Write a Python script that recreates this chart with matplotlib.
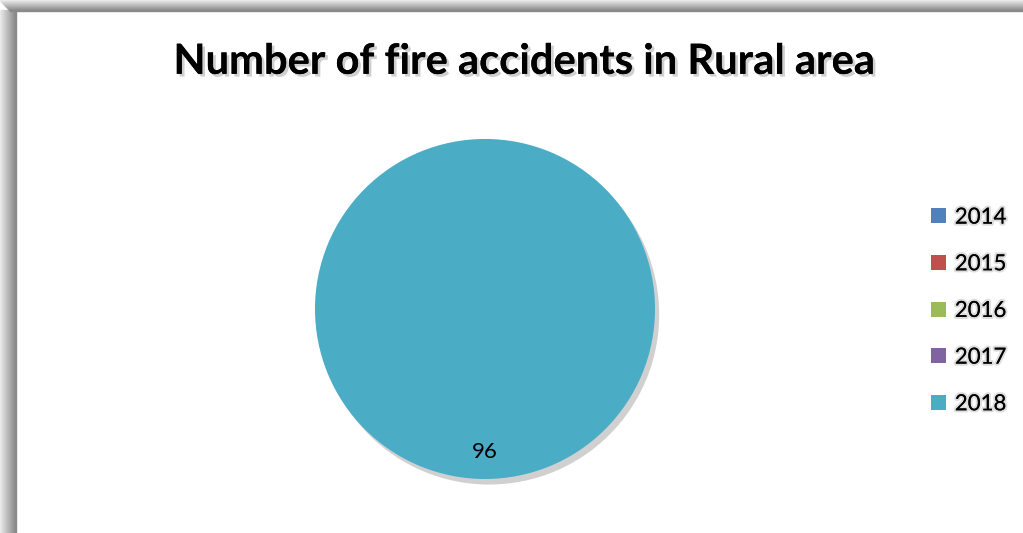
from matplotlib import pyplot as plt
from matplotlib import patheffects as pe
from matplotlib.patches import Rectangle

years = ["2014", "2015", "2016", "2017", "2018"]
accidents = [0, 0, 0, 0, 96]
colors = ["#4F81BD", "#C0504D", "#9BBB59", "#8064A2", "#4BACC6"]

plt.rcParams["font.family"] = ["Lato", "DejaVu Sans"]

fig = plt.figure(figsize=(10.23, 5.33), dpi=100, facecolor="white")

# gray frame shadow at the left and top edges
W, H = 1023, 533
for i in range(16):
    g = 0.92 - 0.38 * i / 15
    fig.patches.append(Rectangle((i / W, 0), 1 / W, 1 - 10 / H, transform=fig.transFigure,
                                 color=(g, g, g), zorder=0))
for j in range(11):
    g = 0.92 - 0.38 * j / 10
    fig.patches.append(Rectangle((j / W, 1 - (j + 1) / H), 1 - j / W, 1 / H, transform=fig.transFigure,
                                 color=(g, g, g), zorder=0))

ax = fig.add_axes([0.3079, 0.1013, 0.3324, 0.638])
labels = [str(v) if v > 0 else "" for v in accidents]
wedges, texts = ax.pie(accidents, colors=colors, labels=labels, startangle=90,
                       counterclock=False, labeldistance=0.84,
                       wedgeprops=dict(linewidth=0))
ax.set_xlim(-1, 1)
ax.set_ylim(-1, 1)
for w, v in zip(wedges, accidents):
    if v > 0:
        w.set_path_effects([pe.SimplePatchShadow(offset=(3, -4), shadow_rgbFace="#666666", alpha=0.3),
                            pe.Normal()])
for t in texts:
    t.set_fontsize(16)
    t.set_color("black")
    t.set_ha("center")
    t.set_va("center")
ax.set_aspect("equal")

shadow = [pe.withStroke(linewidth=3, foreground="#dddddd"), pe.Normal()]
fig.text(0.512, 0.884, "Number of fire accidents in Rural area", ha="center", va="center",
         fontsize=30, fontweight="bold", color="black",
         path_effects=[pe.withSimplePatchShadow(offset=(2, -2), shadow_rgbFace="#888888", alpha=0.4),
                       pe.Normal()])

leg = fig.legend(wedges, years, loc="upper left", bbox_to_anchor=(0.891, 0.648),
                 frameon=False, fontsize=16, handlelength=0.65, handleheight=0.65,
                 handletextpad=0.4, labelspacing=1.2)
for t in leg.get_texts():
    t.set_path_effects(shadow)
for h in leg.legend_handles:
    h.set_path_effects([])

plt.savefig("out.png", dpi=100, facecolor="white")
plt.close()
